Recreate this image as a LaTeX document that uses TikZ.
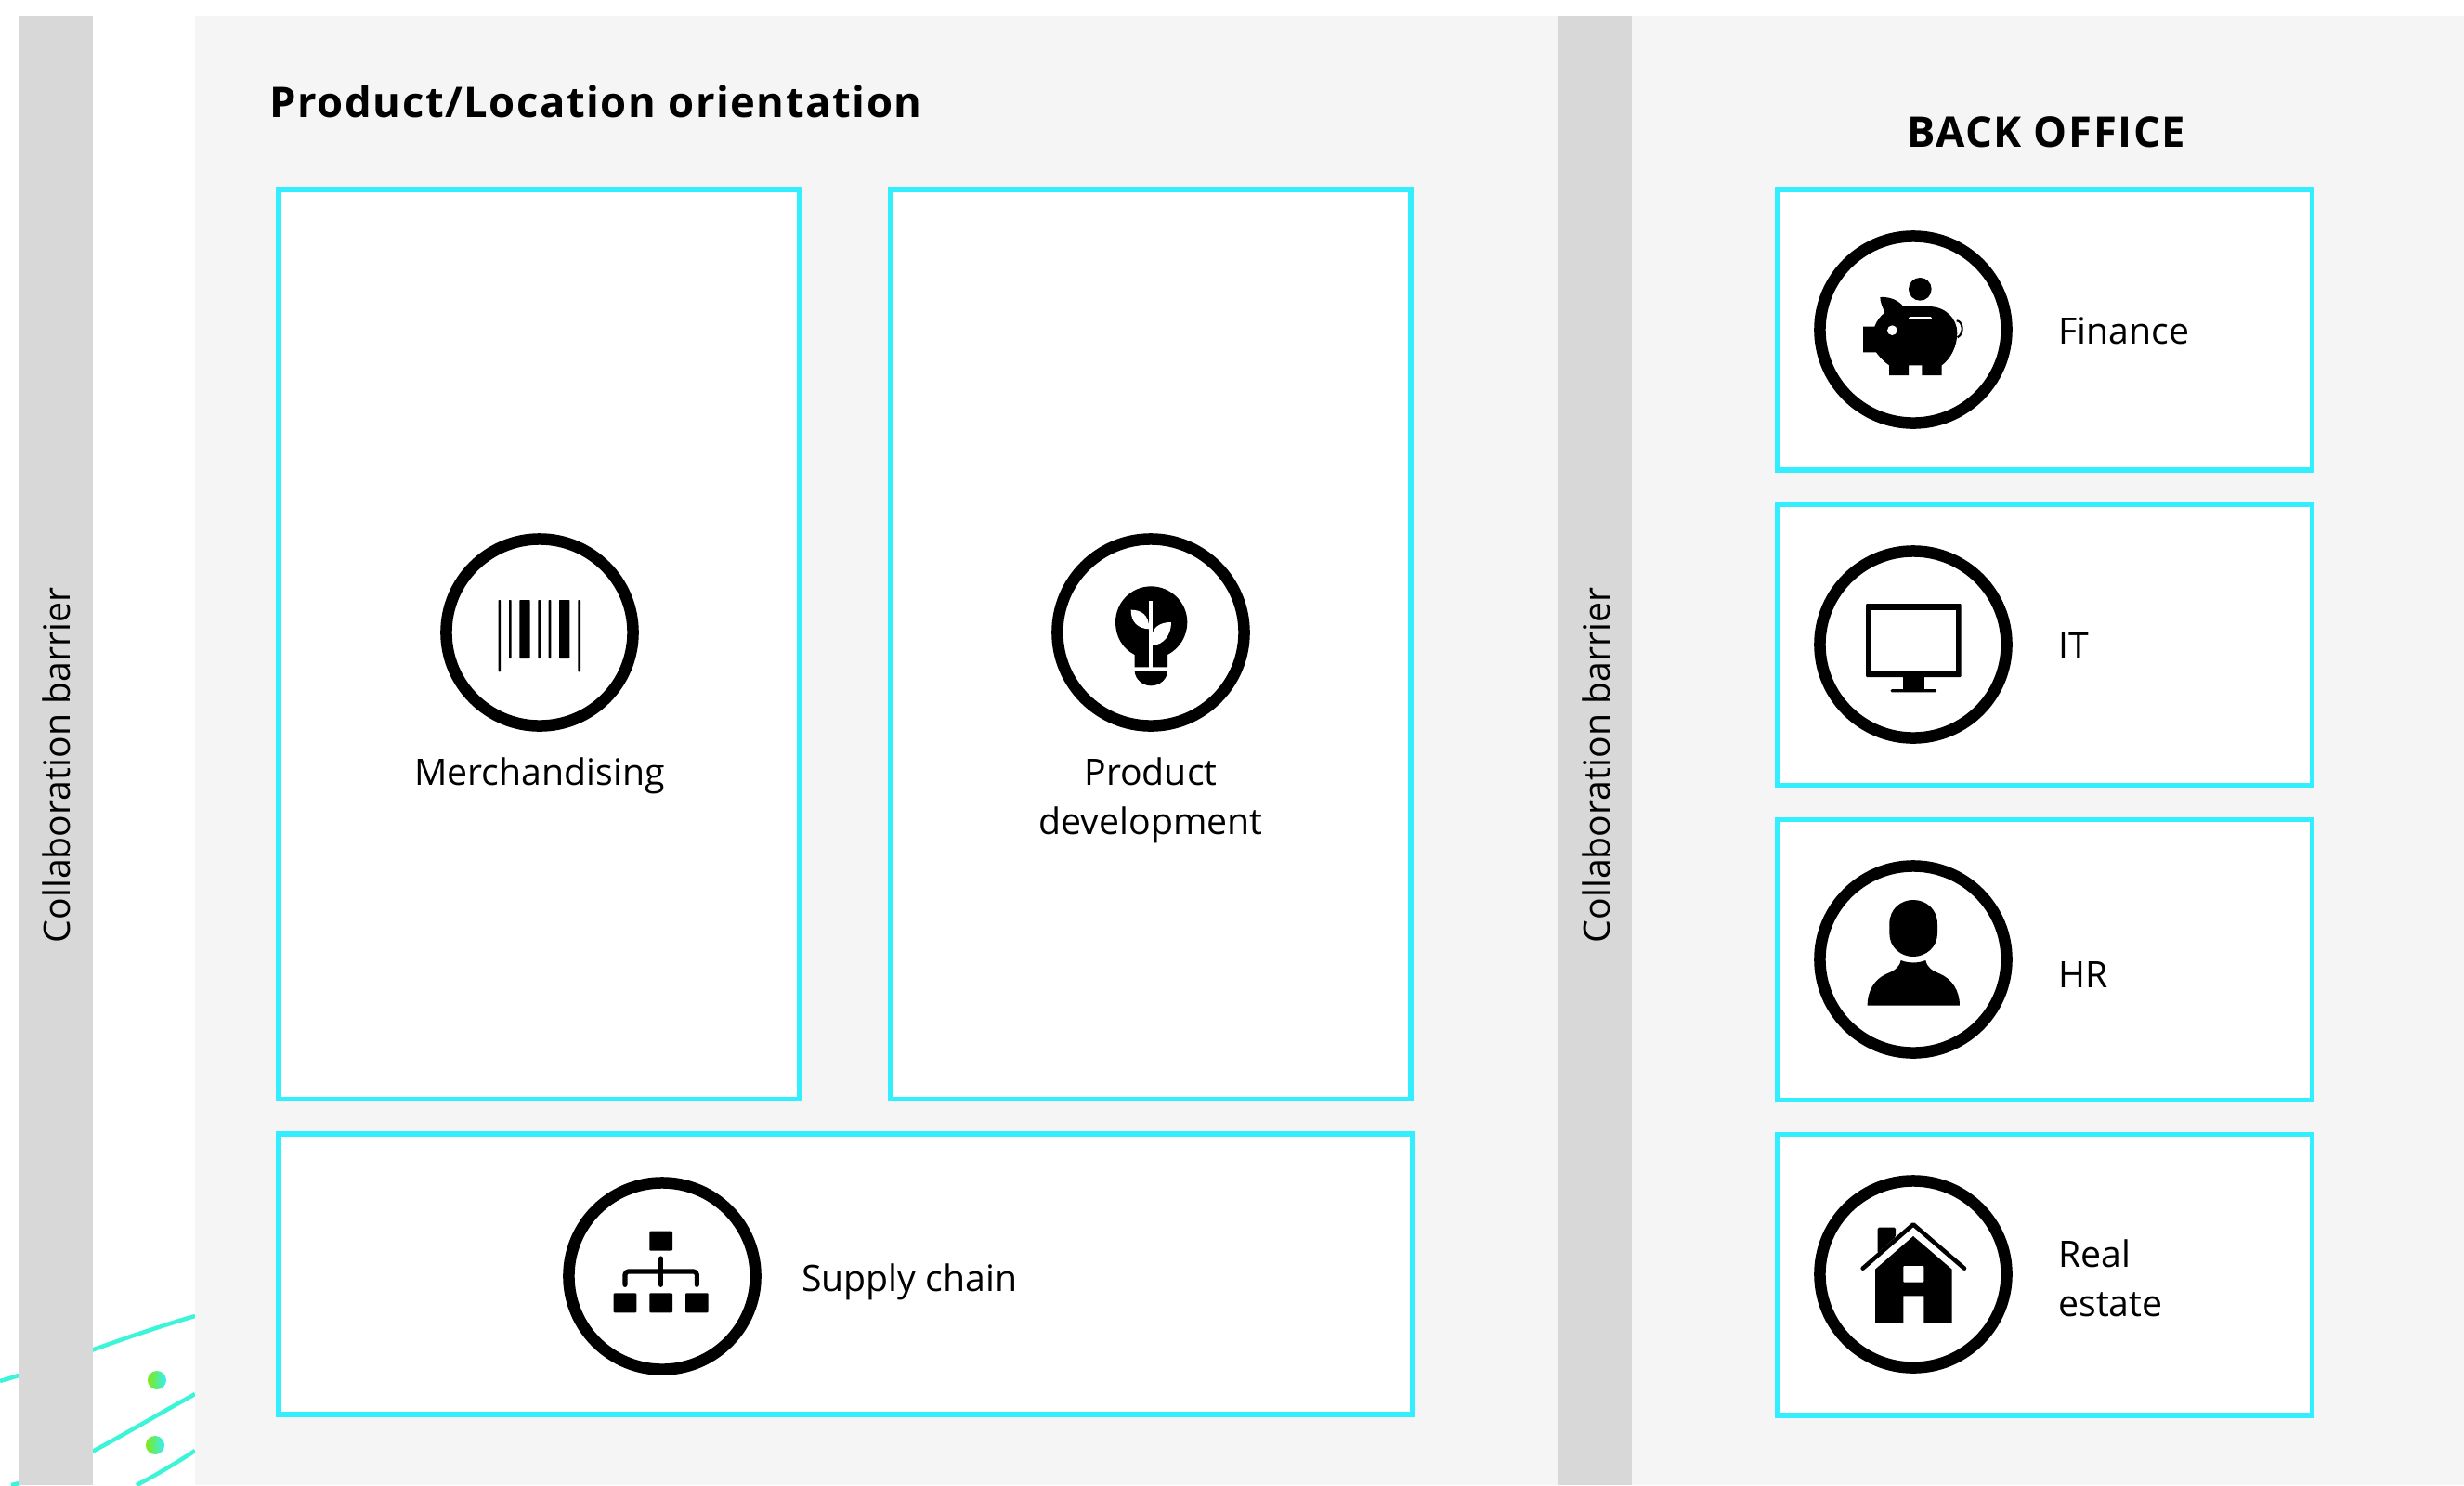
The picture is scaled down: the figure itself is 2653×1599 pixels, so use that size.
\documentclass[tikz,border=0pt]{standalone}
\usepackage{fontspec}
\setmainfont{Open Sans}
\usepackage{xcolor}
\usetikzlibrary{
  positioning,
  calc
}
\definecolor{barriergray}{HTML}{D8D8D8}
\definecolor{panelgray}{HTML}{F5F5F5}
\definecolor{boxcyan}{HTML}{33EEFF}
\definecolor{curveteal}{HTML}{3CF5D8}
\definecolor{dotlime}{HTML}{80EA10}

\begin{document}
\begin{tikzpicture}[
  x=0.01cm, y=-0.01cm,
  barrier/.style={fill=barriergray},
  panel/.style={fill=panelgray},
  box/.style={draw=boxcyan, fill=white, line width=0.055cm, inner sep=0pt, outer sep=0pt},
  tallbox/.style={box, minimum width=5.60cm, minimum height=9.79cm},
  backbox/.style={box, minimum width=5.75cm, minimum height=3.02cm},
  ring/.style={circle, draw=black, fill=white, line width=0.125cm, minimum size=2.01cm, inner sep=0pt, outer sep=0.06cm},
  label/.style={font=\fontsize{11.15}{15.2}\selectfont, align=left, inner sep=0pt},
  barriertext/.style={label, rotate=90, align=center},
  heading/.style={font=\fontsize{12.9}{17}\selectfont\bfseries\addfontfeature{LetterSpace=3.4}, inner sep=0pt},
  curve/.style={draw=curveteal, line width=0.045cm},
  dot/.style={circle, left color=dotlime, right color=boxcyan, minimum size=0.2cm, inner sep=0pt}
]
\useasboundingbox (0,0) rectangle (2653,1599);

% Curves behind the barrier
\draw[curve] (0,1487) .. controls (60,1470) and (130,1440) .. (210,1417);
\draw[curve] (12,1599) .. controls (60,1590) and (130,1545) .. (210,1501);
\draw[curve] (147,1599) .. controls (165,1590) and (185,1578) .. (210,1562);
\node[dot] (dotone) at (169,1486) {};
\node[dot] (dottwo) at (167,1556) {};

% Panels
\fill[barrier] (20,17) rectangle (100,1599);
\fill[panel] (210,17) rectangle (1677,1599);
\fill[barrier] (1677,17) rectangle (1757,1599);
\fill[panel] (1757,17) rectangle (2653,1599);

\node[barriertext] (barrierleft) at (61,824) {Collaboration barrier};
\node[barriertext] (barrierright) at (1719,824) {Collaboration barrier};

\node[heading, anchor=west] (prodtitle) at (290,109) {Product/Location orientation};
\node[heading] (backtitle) at (2203,142) {BACK OFFICE};

% Boxes
\node[tallbox, anchor=north west] (merch) at (300,204) {};
\node[tallbox, right=0.985cm of merch] (product) {};
\node[box, minimum height=3.02cm, anchor=north west, minimum width=12.2cm] (supply) at (300,1221) {};
\node[backbox, anchor=north west] (finance) at (1914,204) {};
\node[backbox, below=0.37cm of finance] (it) {};
\node[backbox, below=0.37cm of it] (hr) {};
\node[backbox, below=0.37cm of hr] (estate) {};

% Rings
\node[ring] (merchring) at (581,681) {};
\node[ring] (productring) at (1239,681) {};
\node[ring] (supplyring) at (713,1374) {};
\node[ring] (financering) at (2060,355) {};
\node[ring] (itring) at (2060,694) {};
\node[ring] (hrring) at (2060,1033) {};
\node[ring] (estatering) at (2060,1372) {};

% Labels
\node[label, below=0.27cm of merchring] (merchlabel) {Merchandising};
\node[label, align=center, below=0.27cm of productring] (productlabel) {Product\\development};
\node[label, right=0.43cm of supplyring, yshift=-0.06cm] (supplylabel) {Supply chain};
\node[label, right=0.49cm of financering, yshift=-0.015cm] (financelabel) {Finance};
\node[label, right=0.49cm of itring, yshift=-0.015cm] (itlabel) {IT};
\node[label, right=0.49cm of hrring, yshift=-0.16cm] (hrlabel) {HR};
\node[label, right=0.49cm of estatering, yshift=-0.04cm] (estatelabel) {Real\\estate};

% Barcode
\begin{scope}[shift={(455,560)}, scale=1/3]
\fill[rounded corners=0.2pt] (245,258) rectangle (252,490);
\fill[rounded corners=0.2pt] (279,258) rectangle (287,447);
\fill[rounded corners=0.2pt] (313,258) rectangle (347,447);
\fill[rounded corners=0.2pt] (373,258) rectangle (381,447);
\fill[rounded corners=0.2pt] (407,258) rectangle (415,447);
\fill[rounded corners=0.2pt] (441,258) rectangle (475,447);
\fill[rounded corners=0.2pt] (502,258) rectangle (510,490);
\end{scope}

% Bulb
\begin{scope}[shift={(1115,560)}, scale=1/3]
\fill (320,475) -- (320,435) .. controls (280,415) and (258,375) .. (258,330)
  .. controls (258,265) and (310,214) .. (373,214)
  .. controls (436,214) and (490,265) .. (490,330)
  .. controls (490,375) and (465,415) .. (426,435) -- (426,475) -- cycle;
\fill (320,488) -- (426,488) .. controls (425,515) and (400,535) .. (373,535)
  .. controls (346,535) and (322,515) .. (320,488) -- cycle;
\fill[white] (367,262) rectangle (378,478);
\fill[white] (308,290) .. controls (340,290) and (367,305) .. (367,352)
  .. controls (330,350) and (308,330) .. (308,290) -- cycle;
\fill[white] (438,330) .. controls (438,370) and (415,402) .. (378,405) -- (378,365)
  .. controls (385,340) and (410,330) .. (438,330) -- cycle;
\end{scope}

% Hierarchy
\begin{scope}[shift={(590,1250)}, scale=1/3]
\fill[rounded corners=0.3pt] (328,227) rectangle (402,290);
\fill[rounded corners=0.3pt] (212,427) rectangle (286,490);
\fill[rounded corners=0.3pt] (328,427) rectangle (402,490);
\fill[rounded corners=0.3pt] (444,427) rectangle (518,490);
\draw[line width=1.45pt, line cap=round] (365,315) -- (365,400);
\draw[line width=1.45pt, line cap=round, rounded corners=1pt] (249,400) -- (249,357) -- (481,357) -- (481,400);
\end{scope}

% Piggy bank
\begin{scope}[shift={(1930,230)}, scale=1/3]
\fill (412,244) circle (37);
\fill (283,270) .. controls (315,268) and (342,280) .. (358,300) -- (440,300)
  .. controls (495,300) and (532,340) .. (532,385)
  .. controls (532,430) and (510,470) .. (482,490) -- (482,522) -- (418,522) -- (418,490)
  -- (375,490) -- (375,522) -- (312,522) -- (312,490)
  .. controls (295,478) and (280,462) .. (270,448) -- (228,448) -- (228,365) -- (265,365)
  .. controls (272,345) and (285,330) .. (298,320)
  .. controls (290,300) and (283,285) .. (283,270) -- cycle;
\fill[white] (322,377) circle (16);
\draw[white, line width=0.75pt, line cap=round] (379,338) -- (446,338);
\draw[line width=0.6pt] (530,346) .. controls (548,345) and (558,385) .. (533,400);
\end{scope}

% Monitor
\begin{scope}[shift={(1930,570)}, scale=1/3]
\fill[rounded corners=0.3pt] (237,240) rectangle (545,477);
\fill[white] (256,260) rectangle (527,458);
\fill (356,477) rectangle (426,517);
\fill[rounded corners=0.4pt] (317,516) rectangle (465,526);
\end{scope}

% Person
\begin{scope}[shift={(1930,910)}, scale=1/3]
\fill (313,255) .. controls (313,205) and (350,177) .. (390,177)
  .. controls (430,177) and (468,205) .. (468,255) -- (468,285)
  .. controls (468,330) and (430,360) .. (390,360)
  .. controls (350,360) and (313,330) .. (313,285) -- cycle;
\fill (350,372) .. controls (375,382) and (405,382) .. (430,372)
  .. controls (435,395) and (450,405) .. (475,415)
  .. controls (515,432) and (540,470) .. (540,518) -- (242,518)
  .. controls (242,470) and (265,432) .. (305,415)
  .. controls (330,405) and (345,395) .. (350,372) -- cycle;
\end{scope}

% House
\begin{scope}[shift={(1930,1250)}, scale=1/3]
\fill[rounded corners=0.4pt] (275,297) -- (275,215) -- (333,215) -- (333,245) -- cycle;
\draw[line width=1.3pt, line cap=round, line join=round] (227,347) -- (390,205) -- (555,347);
\fill (390,243) -- (515,350) -- (515,522) -- (424,522) -- (424,436) -- (358,436)
  -- (358,522) -- (267,522) -- (267,350) -- cycle;
\fill[white, rounded corners=0.3pt] (358,339) rectangle (424,392);
\end{scope}

\end{tikzpicture}
\end{document}
